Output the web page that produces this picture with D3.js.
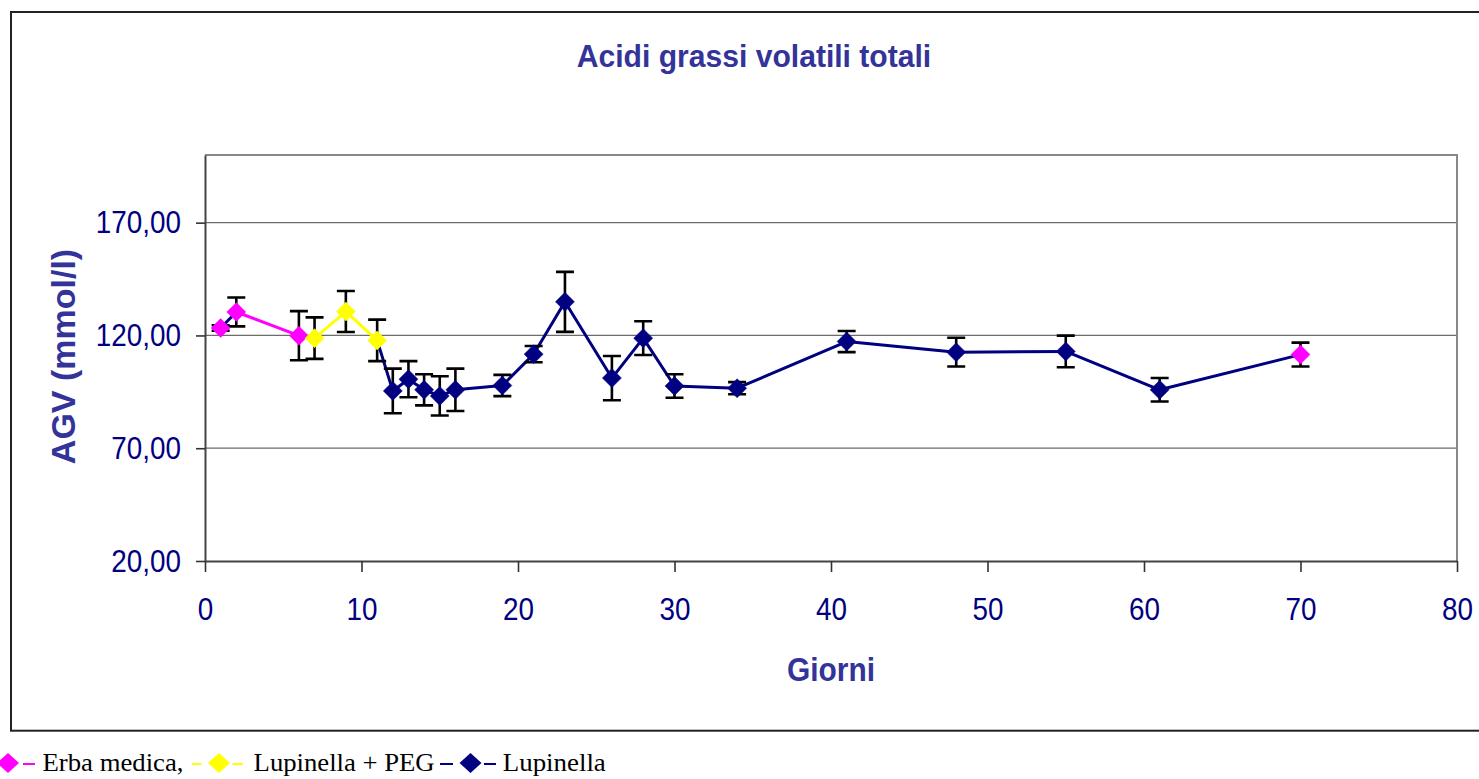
<!DOCTYPE html>
<html>
<head>
<meta charset="utf-8">
<script src="https://cdn.jsdelivr.net/npm/d3@7"></script>
<style>
  html, body { margin: 0; padding: 0; background: #fff; overflow: hidden; }
  svg { display: block; }
</style>
</head>
<body>
<svg id="chart" width="1479" height="779"></svg>
<script>
// Sampling days and total volatile fatty acids (mmol/l), mean ± error
const days   = [1, 2, 6, 7, 9, 11, 12, 13, 14, 15, 16, 19, 21, 23, 26, 28, 30, 34, 41, 48, 55, 61, 70];
const values = [123.3, 130.4, 119.9, 118.8, 130.6, 117.8, 95.4, 100.6, 95.9, 93.2, 95.9, 97.8, 111.7, 134.9, 101.1, 118.8, 97.6, 96.6, 117.3, 112.6, 112.9, 95.9, 111.5];
const errors = [1.2, 6.4, 10.9, 9.2, 9.1, 9.2, 9.9, 8.0, 6.9, 8.7, 9.4, 4.7, 3.6, 13.3, 9.8, 7.5, 5.2, 2.7, 4.7, 6.4, 7.0, 5.2, 5.3];

// Diet of each sample (index into seriesNames) and of the segment leading into it
const seriesNames   = ["Erba medica", "Lupinella + PEG", "Lupinella"];
const pointSeries   = [0, 0, 0, 1, 1, 1, 2, 2, 2, 2, 2, 2, 2, 2, 2, 2, 2, 2, 2, 2, 2, 2, 0];
const segmentSeries = [null, 2, 0, 1, 1, 1, 2, 2, 2, 2, 2, 2, 2, 2, 2, 2, 2, 2, 2, 2, 2, 2, 2];

const xTicks = [0, 10, 20, 30, 40, 50, 60, 70, 80];
const yTicks = [20, 70, 120, 170];
const yGrid  = [70, 120, 170];

const chartTitle = "Acidi grassi volatili totali";
const xTitle = "Giorni";
const yTitle = "AGV (mmol/l)";

const seriesColors = ["#ff00ff", "#ffff00", "#000080"];
const titleColor = "#333399";
const tickColor = "#000080";

const W = 1479, H = 779;
const plot = { left: 205, right: 1457, top: 155, bottom: 561 };

const svg = d3.select("#chart");
svg.append("rect").attr("width", W).attr("height", H).attr("fill", "#fff");

// squeeze text horizontally to a fraction of its natural width
function condense(sel, factor) {
  sel.each(function () {
    const L = this.getComputedTextLength();
    this.setAttribute("textLength", (L * factor).toFixed(2));
    this.setAttribute("lengthAdjust", "spacingAndGlyphs");
  });
}

// chart frame
svg.append("rect")
  .attr("x", 11).attr("y", 12)
  .attr("width", 1500).attr("height", 718.7)
  .attr("fill", "none").attr("stroke", "#222").attr("stroke-width", 2);

const x = d3.scaleLinear().domain([0, 80]).range([plot.left, plot.right]);
const y = d3.scaleLinear().domain([20, 200]).range([plot.bottom, plot.top]);

// gridlines
svg.append("g").selectAll("line").data(yGrid).join("line")
  .attr("x1", plot.left).attr("x2", plot.right)
  .attr("y1", d => y(d)).attr("y2", d => y(d))
  .attr("stroke", "#6b6b6b").attr("stroke-width", 1.2);

// plot-area border (top and right)
svg.append("path")
  .attr("d", `M${plot.left},${plot.top}H${plot.right}V${plot.bottom}`)
  .attr("fill", "none").attr("stroke", "#888").attr("stroke-width", 2);

const fmt = d3.formatLocale({ decimal: ",", thousands: ".", grouping: [3], currency: ["", "€"] }).format(".2f");

// y axis
const gy = svg.append("g")
  .attr("transform", `translate(${plot.left},0)`)
  .call(d3.axisLeft(y).tickValues(yTicks).tickFormat(fmt).tickSize(9).tickSizeOuter(0));
gy.select(".domain").attr("stroke", "#444").attr("stroke-width", 2);
gy.selectAll(".tick line").attr("stroke", "#333").attr("stroke-width", 1.6);
gy.selectAll(".tick text")
  .attr("x", -24).attr("dy", "0.32em")
  .attr("fill", tickColor)
  .style("font-family", "'Liberation Sans', Arial, sans-serif")
  .style("font-size", "32px")
  .call(condense, 0.87);

// x axis
const gx = svg.append("g")
  .attr("transform", `translate(0,${plot.bottom})`)
  .call(d3.axisBottom(x).tickValues(xTicks).tickSize(11).tickSizeOuter(0));
gx.select(".domain").attr("stroke", "#444").attr("stroke-width", 2);
gx.selectAll(".tick line").attr("stroke", "#333").attr("stroke-width", 1.6);
gx.selectAll(".tick text")
  .attr("y", 59).attr("dy", 0)
  .attr("fill", tickColor)
  .style("font-family", "'Liberation Sans', Arial, sans-serif")
  .style("font-size", "32px")
  .call(condense, 0.87);

// titles
svg.append("text")
  .attr("x", 754).attr("y", 67)
  .attr("text-anchor", "middle")
  .attr("fill", titleColor)
  .style("font-family", "'Liberation Sans', Arial, sans-serif")
  .style("font-size", "32px").style("font-weight", "bold")
  .text(chartTitle)
  .call(condense, 0.94);

svg.append("text")
  .attr("x", (plot.left + plot.right) / 2).attr("y", 681)
  .attr("text-anchor", "middle")
  .attr("fill", titleColor)
  .style("font-family", "'Liberation Sans', Arial, sans-serif")
  .style("font-size", "33px").style("font-weight", "bold")
  .text(xTitle)
  .call(condense, 0.905);

svg.append("text")
  .attr("transform", "translate(75,356.5) rotate(-90)")
  .attr("text-anchor", "middle")
  .attr("fill", titleColor)
  .style("font-family", "'Liberation Sans', Arial, sans-serif")
  .style("font-size", "34px").style("font-weight", "bold")
  .text(yTitle);

// data
const pts = days.map((d, i) => ({ day: d, v: values[i], e: errors[i], s: pointSeries[i], seg: segmentSeries[i] }));

// connecting line, one segment per pair of consecutive samples
const segs = pts.slice(1).map((p, i) => ({ a: pts[i], b: p, s: p.seg }));
svg.append("g").selectAll("line").data(segs).join("line")
  .attr("x1", d => x(d.a.day)).attr("y1", d => y(d.a.v))
  .attr("x2", d => x(d.b.day)).attr("y2", d => y(d.b.v))
  .attr("stroke", d => seriesColors[d.s])
  .attr("stroke-width", 3)
  .attr("stroke-linecap", "round");

// error bars
const capW = 9;
const eb = svg.append("g").attr("stroke", "#000").attr("stroke-width", 2.6).attr("fill", "none");
eb.selectAll("path").data(pts).join("path")
  .attr("d", d => {
    const cx = x(d.day), y1 = y(d.v + d.e), y0 = y(d.v - d.e);
    return `M${cx},${y1}V${y0}M${cx - capW},${y1}H${cx + capW}M${cx - capW},${y0}H${cx + capW}`;
  });

// diamond markers
const r = 9.5;
const diamond = (rx, ry) => `M0,${-ry}L${rx},0L0,${ry}L${-rx},0Z`;
svg.append("g").selectAll("path").data(pts).join("path")
  .attr("transform", d => `translate(${x(d.day)},${y(d.v)})`)
  .attr("d", diamond(r, r))
  .attr("fill", d => seriesColors[d.s])
  .attr("stroke", d => seriesColors[d.s])
  .attr("stroke-width", 0.5);

// legend line below the chart
const legend = svg.append("g")
  .style("font-family", "'Liberation Serif', 'Times New Roman', serif")
  .style("font-size", "26px")
  .attr("fill", "#000");

const legendItems = [
  { s: 0, dashL: null,          cx: 8,     dashR: [23, 35],     tx: 42.5,  label: seriesNames[0] + ",", w: 141 },
  { s: 1, dashL: [192, 201.5],  cx: 219,   dashR: [232.5, 243], tx: 253.6, label: seriesNames[1],       w: 181 },
  { s: 2, dashL: [440, 453],    cx: 470.5, dashR: [484, 496],   tx: 502.8, label: seriesNames[2],       w: 103 }
];
legendItems.forEach(it => {
  const col = seriesColors[it.s];
  [it.dashL, it.dashR].forEach(dsh => {
    if (!dsh) return;
    legend.append("line")
      .attr("x1", dsh[0]).attr("x2", dsh[1]).attr("y1", 764).attr("y2", 764)
      .attr("stroke", col).attr("stroke-width", 2);
  });
  legend.append("path")
    .attr("transform", `translate(${it.cx},763)`)
    .attr("d", diamond(11, 10))
    .attr("fill", col);
  legend.append("text")
    .attr("x", it.tx).attr("y", 771)
    .attr("textLength", it.w).attr("lengthAdjust", "spacingAndGlyphs")
    .text(it.label);
});
</script>
</body>
</html>
